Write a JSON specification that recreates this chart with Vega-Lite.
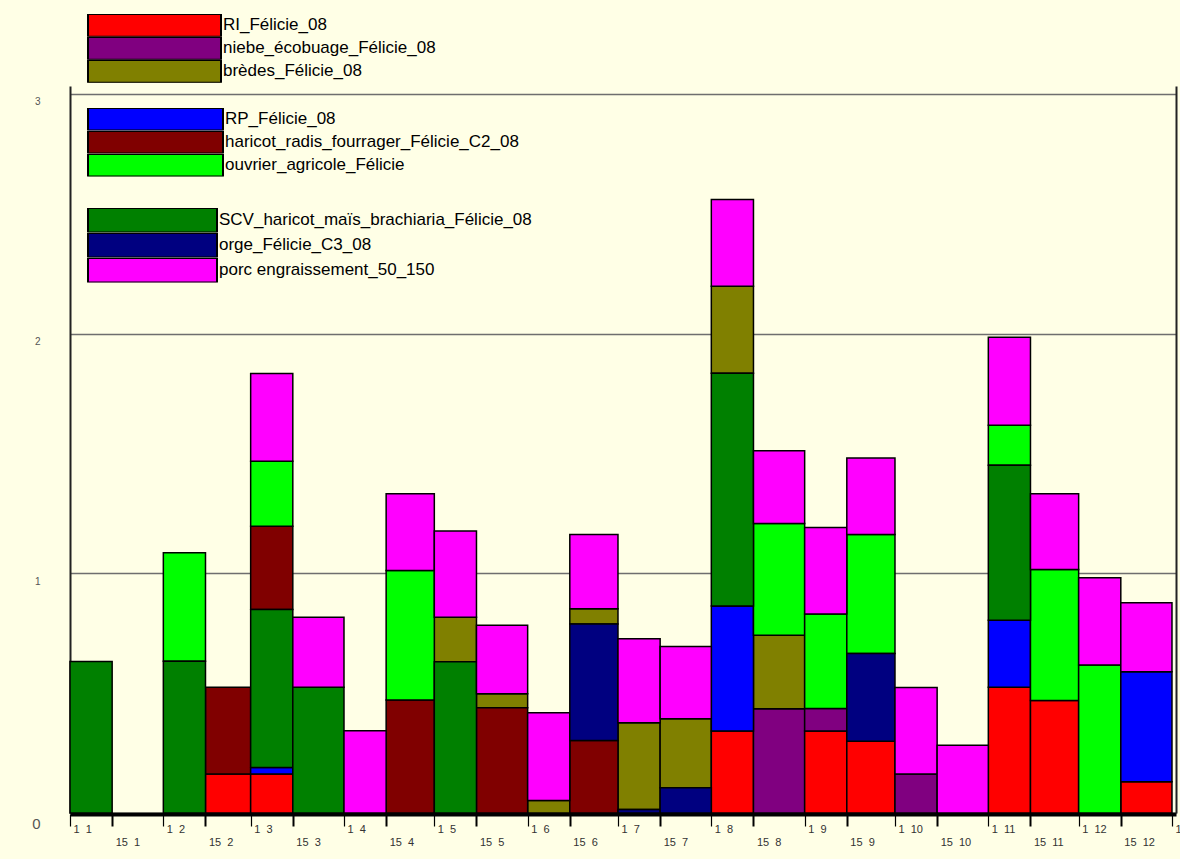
{
  "$schema": "https://vega.github.io/schema/vega-lite/v6.json",
  "width": 1106,
  "height": 727,
  "autosize": {"type": "none"},
  "padding": {"left": 70, "top": 86, "right": 4, "bottom": 46},
  "background": "#ffffe6",
  "config": {"view": {"stroke": null}, "font": "Liberation Sans"},
  "data": {
    "values": [
      {"start": "2008-01-01", "end": "2008-01-15", "series": "SCV_haricot_maïs_brachiaria_Félicie_08", "value": 0.632},
      {"start": "2008-02-01", "end": "2008-02-15", "series": "SCV_haricot_maïs_brachiaria_Félicie_08", "value": 0.633},
      {"start": "2008-02-01", "end": "2008-02-15", "series": "ouvrier_agricole_Félicie", "value": 0.453},
      {"start": "2008-02-15", "end": "2008-03-01", "series": "RI_Félicie_08", "value": 0.163},
      {"start": "2008-02-15", "end": "2008-03-01", "series": "haricot_radis_fourrager_Félicie_C2_08", "value": 0.362},
      {"start": "2008-03-01", "end": "2008-03-15", "series": "RI_Félicie_08", "value": 0.163},
      {"start": "2008-03-01", "end": "2008-03-15", "series": "RP_Félicie_08", "value": 0.027},
      {"start": "2008-03-01", "end": "2008-03-15", "series": "SCV_haricot_maïs_brachiaria_Félicie_08", "value": 0.659},
      {"start": "2008-03-01", "end": "2008-03-15", "series": "haricot_radis_fourrager_Félicie_C2_08", "value": 0.347},
      {"start": "2008-03-01", "end": "2008-03-15", "series": "ouvrier_agricole_Félicie", "value": 0.271},
      {"start": "2008-03-01", "end": "2008-03-15", "series": "porc engraissement_50_150", "value": 0.367},
      {"start": "2008-03-15", "end": "2008-04-01", "series": "SCV_haricot_maïs_brachiaria_Félicie_08", "value": 0.525},
      {"start": "2008-03-15", "end": "2008-04-01", "series": "porc engraissement_50_150", "value": 0.292},
      {"start": "2008-04-01", "end": "2008-04-15", "series": "porc engraissement_50_150", "value": 0.343},
      {"start": "2008-04-15", "end": "2008-05-01", "series": "haricot_radis_fourrager_Félicie_C2_08", "value": 0.471},
      {"start": "2008-04-15", "end": "2008-05-01", "series": "ouvrier_agricole_Félicie", "value": 0.541},
      {"start": "2008-04-15", "end": "2008-05-01", "series": "porc engraissement_50_150", "value": 0.320},
      {"start": "2008-05-01", "end": "2008-05-15", "series": "SCV_haricot_maïs_brachiaria_Félicie_08", "value": 0.631},
      {"start": "2008-05-01", "end": "2008-05-15", "series": "brèdes_Félicie_08", "value": 0.186},
      {"start": "2008-05-01", "end": "2008-05-15", "series": "porc engraissement_50_150", "value": 0.359},
      {"start": "2008-05-15", "end": "2008-06-01", "series": "haricot_radis_fourrager_Félicie_C2_08", "value": 0.439},
      {"start": "2008-05-15", "end": "2008-06-01", "series": "brèdes_Félicie_08", "value": 0.058},
      {"start": "2008-05-15", "end": "2008-06-01", "series": "porc engraissement_50_150", "value": 0.286},
      {"start": "2008-06-01", "end": "2008-06-15", "series": "brèdes_Félicie_08", "value": 0.052},
      {"start": "2008-06-01", "end": "2008-06-15", "series": "porc engraissement_50_150", "value": 0.366},
      {"start": "2008-06-15", "end": "2008-07-01", "series": "haricot_radis_fourrager_Félicie_C2_08", "value": 0.302},
      {"start": "2008-06-15", "end": "2008-07-01", "series": "orge_Félicie_C3_08", "value": 0.487},
      {"start": "2008-06-15", "end": "2008-07-01", "series": "brèdes_Félicie_08", "value": 0.063},
      {"start": "2008-06-15", "end": "2008-07-01", "series": "porc engraissement_50_150", "value": 0.310},
      {"start": "2008-07-01", "end": "2008-07-15", "series": "orge_Félicie_C3_08", "value": 0.015},
      {"start": "2008-07-01", "end": "2008-07-15", "series": "brèdes_Félicie_08", "value": 0.361},
      {"start": "2008-07-01", "end": "2008-07-15", "series": "porc engraissement_50_150", "value": 0.351},
      {"start": "2008-07-15", "end": "2008-08-01", "series": "orge_Félicie_C3_08", "value": 0.105},
      {"start": "2008-07-15", "end": "2008-08-01", "series": "brèdes_Félicie_08", "value": 0.288},
      {"start": "2008-07-15", "end": "2008-08-01", "series": "porc engraissement_50_150", "value": 0.302},
      {"start": "2008-08-01", "end": "2008-08-15", "series": "RI_Félicie_08", "value": 0.342},
      {"start": "2008-08-01", "end": "2008-08-15", "series": "RP_Félicie_08", "value": 0.522},
      {"start": "2008-08-01", "end": "2008-08-15", "series": "SCV_haricot_maïs_brachiaria_Félicie_08", "value": 0.971},
      {"start": "2008-08-01", "end": "2008-08-15", "series": "brèdes_Félicie_08", "value": 0.363},
      {"start": "2008-08-01", "end": "2008-08-15", "series": "porc engraissement_50_150", "value": 0.361},
      {"start": "2008-08-15", "end": "2008-09-01", "series": "niebe_écobuage_Félicie_08", "value": 0.435},
      {"start": "2008-08-15", "end": "2008-09-01", "series": "brèdes_Félicie_08", "value": 0.307},
      {"start": "2008-08-15", "end": "2008-09-01", "series": "ouvrier_agricole_Félicie", "value": 0.466},
      {"start": "2008-08-15", "end": "2008-09-01", "series": "porc engraissement_50_150", "value": 0.303},
      {"start": "2008-09-01", "end": "2008-09-15", "series": "RI_Félicie_08", "value": 0.342},
      {"start": "2008-09-01", "end": "2008-09-15", "series": "niebe_écobuage_Félicie_08", "value": 0.094},
      {"start": "2008-09-01", "end": "2008-09-15", "series": "ouvrier_agricole_Félicie", "value": 0.394},
      {"start": "2008-09-01", "end": "2008-09-15", "series": "porc engraissement_50_150", "value": 0.361},
      {"start": "2008-09-15", "end": "2008-10-01", "series": "RI_Félicie_08", "value": 0.299},
      {"start": "2008-09-15", "end": "2008-10-01", "series": "orge_Félicie_C3_08", "value": 0.366},
      {"start": "2008-09-15", "end": "2008-10-01", "series": "ouvrier_agricole_Félicie", "value": 0.497},
      {"start": "2008-09-15", "end": "2008-10-01", "series": "porc engraissement_50_150", "value": 0.319},
      {"start": "2008-10-01", "end": "2008-10-15", "series": "niebe_écobuage_Félicie_08", "value": 0.163},
      {"start": "2008-10-01", "end": "2008-10-15", "series": "porc engraissement_50_150", "value": 0.361},
      {"start": "2008-10-15", "end": "2008-11-01", "series": "porc engraissement_50_150", "value": 0.283},
      {"start": "2008-11-01", "end": "2008-11-15", "series": "RI_Félicie_08", "value": 0.525},
      {"start": "2008-11-01", "end": "2008-11-15", "series": "RP_Félicie_08", "value": 0.279},
      {"start": "2008-11-01", "end": "2008-11-15", "series": "SCV_haricot_maïs_brachiaria_Félicie_08", "value": 0.647},
      {"start": "2008-11-01", "end": "2008-11-15", "series": "ouvrier_agricole_Félicie", "value": 0.167},
      {"start": "2008-11-01", "end": "2008-11-15", "series": "porc engraissement_50_150", "value": 0.367},
      {"start": "2008-11-15", "end": "2008-12-01", "series": "RI_Félicie_08", "value": 0.469},
      {"start": "2008-11-15", "end": "2008-12-01", "series": "ouvrier_agricole_Félicie", "value": 0.547},
      {"start": "2008-11-15", "end": "2008-12-01", "series": "porc engraissement_50_150", "value": 0.316},
      {"start": "2008-12-01", "end": "2008-12-15", "series": "ouvrier_agricole_Félicie", "value": 0.617},
      {"start": "2008-12-01", "end": "2008-12-15", "series": "porc engraissement_50_150", "value": 0.364},
      {"start": "2008-12-15", "end": "2009-01-01", "series": "RI_Félicie_08", "value": 0.130},
      {"start": "2008-12-15", "end": "2009-01-01", "series": "RP_Félicie_08", "value": 0.459},
      {"start": "2008-12-15", "end": "2009-01-01", "series": "porc engraissement_50_150", "value": 0.288}
    ]
  },
  "transform": [
    {"calculate": "indexof(['RI_Félicie_08','niebe_écobuage_Félicie_08','RP_Félicie_08','SCV_haricot_maïs_brachiaria_Félicie_08','haricot_radis_fourrager_Félicie_C2_08','orge_Félicie_C3_08','brèdes_Félicie_08','ouvrier_agricole_Félicie','porc engraissement_50_150'], datum.series)", "as": "rank"},
    {"stack": "value", "groupby": ["start"], "sort": [{"field": "rank", "order": "ascending"}], "as": ["y0", "y1"]}
  ],
  "encoding": {
    "x": {
      "field": "start",
      "type": "temporal",
      "scale": {
        "type": "utc",
        "domain": [{"year": 2008, "month": 1, "date": 1, "utc": true}, {"year": 2009, "month": 1, "date": 2, "hours": 8, "utc": true}],
        "nice": false
      },
      "axis": {
        "title": null,
        "grid": false,
        "values": [
          {"year": 2008, "month": 1, "date": 1, "utc": true},
          {"year": 2008, "month": 1, "date": 15, "utc": true},
          {"year": 2008, "month": 2, "date": 1, "utc": true},
          {"year": 2008, "month": 2, "date": 15, "utc": true},
          {"year": 2008, "month": 3, "date": 1, "utc": true},
          {"year": 2008, "month": 3, "date": 15, "utc": true},
          {"year": 2008, "month": 4, "date": 1, "utc": true},
          {"year": 2008, "month": 4, "date": 15, "utc": true},
          {"year": 2008, "month": 5, "date": 1, "utc": true},
          {"year": 2008, "month": 5, "date": 15, "utc": true},
          {"year": 2008, "month": 6, "date": 1, "utc": true},
          {"year": 2008, "month": 6, "date": 15, "utc": true},
          {"year": 2008, "month": 7, "date": 1, "utc": true},
          {"year": 2008, "month": 7, "date": 15, "utc": true},
          {"year": 2008, "month": 8, "date": 1, "utc": true},
          {"year": 2008, "month": 8, "date": 15, "utc": true},
          {"year": 2008, "month": 9, "date": 1, "utc": true},
          {"year": 2008, "month": 9, "date": 15, "utc": true},
          {"year": 2008, "month": 10, "date": 1, "utc": true},
          {"year": 2008, "month": 10, "date": 15, "utc": true},
          {"year": 2008, "month": 11, "date": 1, "utc": true},
          {"year": 2008, "month": 11, "date": 15, "utc": true},
          {"year": 2008, "month": 12, "date": 1, "utc": true},
          {"year": 2008, "month": 12, "date": 15, "utc": true},
          {"year": 2009, "month": 1, "date": 1, "utc": true}
        ],
        "labelExpr": "utcFormat(datum.value, '%-d') + '\u00a0\u00a0' + utcFormat(datum.value, '%-m')",
        "labelAlign": "left",
        "labelBaseline": "top",
        "labelOffset": 3,
        "labelPadding": {"condition": {"test": "utcdate(datum.value) == 15", "value": 10}, "value": -3},
        "labelFontSize": 11,
        "labelColor": "#333333",
        "labelFlush": false,
        "labelOverlap": false,
        "labelBound": false,
        "tickColor": "black",
        "tickSize": 12,
        "tickWidth": {"condition": {"test": "utcdate(datum.value) == 15", "value": 2}, "value": 1.2},
        "domainColor": "black",
        "domainWidth": 4,
        "offset": 1
      }
    },
    "x2": {"field": "end"}
  },
  "layer": [
    {
      "transform": [{"filter": {"field": "series", "oneOf": ["RI_Félicie_08", "niebe_écobuage_Félicie_08", "brèdes_Félicie_08"]}}],
      "mark": {"type": "bar", "stroke": "black", "strokeWidth": 1.5},
      "encoding": {
        "y": {
          "field": "y0", "type": "quantitative",
          "scale": {"domain": [0, 3.033], "nice": false, "zero": true},
          "axis": {
            "orient": "left", "title": null, "values": [0, 1, 2, 3],
            "grid": true, "gridColor": "#6e6e6e", "gridWidth": 1.5,
            "domainColor": "#222222", "domainWidth": 2,
            "ticks": false, "labelPadding": 30, "labelAlign": "right", "labelBaseline": "top", "labelOffset": 3,
            "labelFontSize": {"condition": {"test": "datum.value == 0", "value": 15}, "value": 10},
            "labelColor": "#555555"
          }
        },
        "y2": {"field": "y1"},
        "color": {
          "field": "series", "type": "nominal",
          "scale": {"domain": ["RI_Félicie_08", "niebe_écobuage_Félicie_08", "brèdes_Félicie_08"], "range": ["#ff0000", "#800080", "#808000"]},
          "legend": {
            "orient": "none", "legendX": 17, "legendY": -72, "title": null, "padding": 0, "rowPadding": 0,
            "clipHeight": 22.7, "symbolType": "M-1,-0.17H1V0.17H-1Z", "symbolSize": 17689,
            "symbolStrokeColor": "black", "symbolStrokeWidth": 2, "symbolOpacity": 1,
            "labelFont": "Liberation Sans", "labelFontSize": 17, "labelColor": "black", "labelOffset": 1, "labelLimit": 600
          }
        }
      }
    },
    {
      "transform": [{"filter": {"field": "series", "oneOf": ["RP_Félicie_08", "haricot_radis_fourrager_Félicie_C2_08", "ouvrier_agricole_Félicie"]}}],
      "mark": {"type": "bar", "stroke": "black", "strokeWidth": 1.5},
      "encoding": {
        "y": {
          "field": "y0", "type": "quantitative",
          "axis": {"orient": "right", "title": null, "labels": false, "ticks": false, "grid": false, "domainColor": "#222222", "domainWidth": 2}
        },
        "y2": {"field": "y1"},
        "color": {
          "field": "series", "type": "nominal",
          "scale": {"domain": ["RP_Félicie_08", "haricot_radis_fourrager_Félicie_C2_08", "ouvrier_agricole_Félicie"], "range": ["#0000ff", "#800000", "#00ff00"]},
          "legend": {
            "orient": "none", "legendX": 17, "legendY": 22, "title": null, "padding": 0, "rowPadding": 0,
            "clipHeight": 22.5, "symbolType": "M-1,-0.167H1V0.167H-1Z", "symbolSize": 18225,
            "symbolStrokeColor": "black", "symbolStrokeWidth": 2, "symbolOpacity": 1,
            "labelFont": "Liberation Sans", "labelFontSize": 17, "labelColor": "black", "labelOffset": 1, "labelLimit": 600
          }
        }
      }
    },
    {
      "transform": [{"filter": {"field": "series", "oneOf": ["SCV_haricot_maïs_brachiaria_Félicie_08", "orge_Félicie_C3_08", "porc engraissement_50_150"]}}],
      "mark": {"type": "bar", "stroke": "black", "strokeWidth": 1.5},
      "encoding": {
        "y": {"field": "y0", "type": "quantitative", "axis": null},
        "y2": {"field": "y1"},
        "color": {
          "field": "series", "type": "nominal",
          "scale": {"domain": ["SCV_haricot_maïs_brachiaria_Félicie_08", "orge_Félicie_C3_08", "porc engraissement_50_150"], "range": ["#008000", "#000080", "#ff00ff"]},
          "legend": {
            "orient": "none", "legendX": 17, "legendY": 122, "title": null, "padding": 0, "rowPadding": 0,
            "clipHeight": 24.5, "symbolType": "M-1,-0.19H1V0.19H-1Z", "symbolSize": 16641,
            "symbolStrokeColor": "black", "symbolStrokeWidth": 2, "symbolOpacity": 1,
            "labelFont": "Liberation Sans", "labelFontSize": 17, "labelColor": "black", "labelOffset": 1, "labelLimit": 600
          }
        }
      }
    }
  ],
  "resolve": {"scale": {"color": "independent"}, "axis": {"y": "independent"}}
}
